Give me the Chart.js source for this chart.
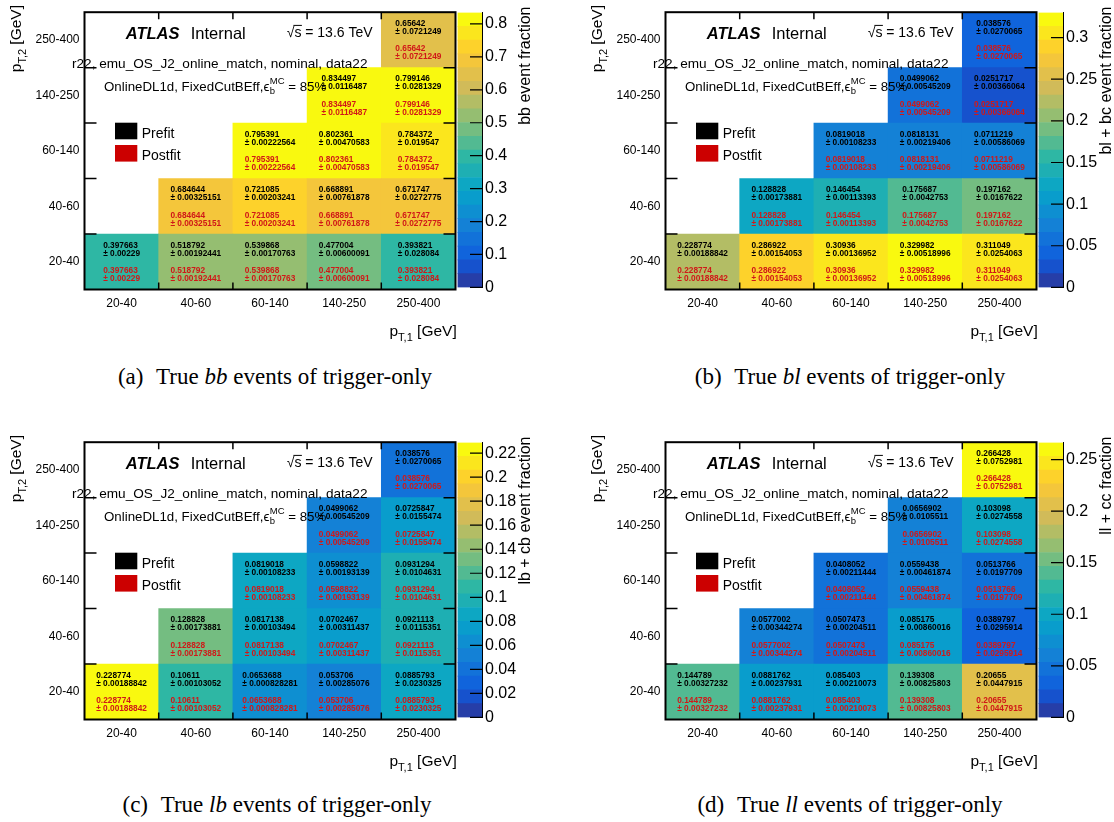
<!DOCTYPE html>
<html>
<head>
<meta charset="utf-8">
<script src="https://cdn.jsdelivr.net/npm/chart.js@4.4.1/dist/chart.umd.min.js"></script>
<style>
  html, body { margin: 0; padding: 0; background: #fff; }
  body { width: 1114px; height: 822px; position: relative; overflow: hidden; }
  canvas { position: absolute; }
  .cap { position: absolute; width: 600px; text-align: center; white-space: nowrap;
         font-family: "Liberation Serif", "Times New Roman", serif; font-size: 23px; line-height: 26px; color: #000; }
  .cap .tag { margin-right: 0.55em; }
</style>
</head>
<body>
<script>
// pT bins used for both jets (x: leading jet, y: subleading jet)
const ptBins = ['20-40', '40-60', '60-140', '140-250', '250-400'];

// Flavour fractions per (pT,2 row, pT,1 column); rows run from the lowest pT,2 bin upwards.
// Prefit and postfit values coincide, so both labels are drawn from the same arrays.
const bbFrac = [
  [0.397663, 0.518792, 0.539868, 0.477004, 0.393821],
  [null, 0.684644, 0.721085, 0.668891, 0.671747],
  [null, null, 0.795391, 0.802361, 0.784372],
  [null, null, null, 0.834497, 0.799146],
  [null, null, null, null, 0.65642]
];
const bbErr = [
  [0.00229, 0.00192441, 0.00170763, 0.00600091, 0.028084],
  [null, 0.00325151, 0.00203241, 0.00761878, 0.0272775],
  [null, null, 0.00222564, 0.00470583, 0.019547],
  [null, null, null, 0.0116487, 0.0281329],
  [null, null, null, null, 0.0721249]
];

const blFrac = [
  [0.228774, 0.286922, 0.30936, 0.329982, 0.311049],
  [null, 0.128828, 0.146454, 0.175687, 0.197162],
  [null, null, 0.0819018, 0.0818131, 0.0711219],
  [null, null, null, 0.0499062, 0.0251717],
  [null, null, null, null, 0.038576]
];
const blErr = [
  [0.00188842, 0.00154053, 0.00136952, 0.00518996, 0.0254063],
  [null, 0.00173881, 0.00113393, 0.0042753, 0.0167622],
  [null, null, 0.00108233, 0.00219406, 0.00586069],
  [null, null, null, 0.00545209, 0.00366064],
  [null, null, null, null, 0.0270065]
];

const lbFrac = [
  [0.228774, 0.10611, 0.0653688, 0.053706, 0.0885793],
  [null, 0.128828, 0.0817138, 0.0702467, 0.0921113],
  [null, null, 0.0819018, 0.0598822, 0.0931294],
  [null, null, null, 0.0499062, 0.0725847],
  [null, null, null, null, 0.038576]
];
const lbErr = [
  [0.00188842, 0.00103052, 0.000828281, 0.00285076, 0.0230325],
  [null, 0.00173881, 0.00103494, 0.00311437, 0.0115351],
  [null, null, 0.00108233, 0.00193139, 0.0104631],
  [null, null, null, 0.00545209, 0.0155474],
  [null, null, null, null, 0.0270065]
];

const llFrac = [
  [0.144789, 0.0881762, 0.085403, 0.139308, 0.20655],
  [null, 0.0577002, 0.0507473, 0.085175, 0.0389797],
  [null, null, 0.0408052, 0.0559438, 0.0513766],
  [null, null, null, 0.0656902, 0.103098],
  [null, null, null, null, 0.266428]
];
const llErr = [
  [0.00327232, 0.00237931, 0.00210073, 0.00825803, 0.0447915],
  [null, 0.00344274, 0.00204511, 0.00860016, 0.0295914],
  [null, null, 0.00211444, 0.00461874, 0.0197709],
  [null, null, null, 0.0105511, 0.0274558],
  [null, null, null, null, 0.0752981]
];

// colour-bar tick values
const bbTicks = [0, 0.1, 0.2, 0.3, 0.4, 0.5, 0.6, 0.7, 0.8];
const blTicks = [0, 0.05, 0.1, 0.15, 0.2, 0.25, 0.3];
const lbTicks = [0, 0.02, 0.04, 0.06, 0.08, 0.1, 0.12, 0.14, 0.16, 0.18, 0.2, 0.22];
const llTicks = [0, 0.05, 0.1, 0.15, 0.2, 0.25];

// ---------------------------------------------------------------------------
const SANS = '"Liberation Sans", Arial, Helvetica, sans-serif';
Chart.defaults.font.family = SANS;
Chart.defaults.color = '#000';
const RED = '#d01818';

// "bird" palette: 255 gradient colours, 20 contour levels
const birdStops = [0, 0.125, 0.25, 0.375, 0.5, 0.625, 0.75, 0.875, 1];
const birdR = [0.2082, 0.0592, 0.0780, 0.0232, 0.1802, 0.5301, 0.8186, 0.9956, 0.9764];
const birdG = [0.1664, 0.3599, 0.5041, 0.6419, 0.7178, 0.7492, 0.7328, 0.7862, 0.9832];
const birdB = [0.5293, 0.8684, 0.8385, 0.7914, 0.6425, 0.4662, 0.3499, 0.1968, 0.0539];
const NCOL = 255, NDIV = 20;

function paletteColor(k) {
  const bounds = birdStops.map(s => Math.floor(NCOL * s));
  let s = 0;
  while (s < bounds.length - 2 && k >= bounds[s + 1]) s++;
  const t = (k - bounds[s]) / (bounds[s + 1] - bounds[s]);
  const c = a => Math.round(255 * (a[s] + t * (a[s + 1] - a[s])));
  return `rgb(${c(birdR)},${c(birdG)},${c(birdB)})`;
}
function levelColor(level) {
  const k = Math.min(NCOL - 1, Math.floor((level + 0.99) * NCOL / NDIV));
  return paletteColor(k);
}
function cellColor(v, zmax) {
  return levelColor(Math.floor(0.01 + v * NDIV / zmax));
}

// draws a run of text pieces [{t, font, dy}] starting (or ending) at x
function drawRich(ctx, parts, x, y, align) {
  let total = 0;
  parts.forEach(p => { ctx.font = p.font; p.w = ctx.measureText(p.t).width; total += p.w; });
  let cx = align === 'right' ? x - total : x;
  ctx.textAlign = 'left';
  ctx.textBaseline = 'alphabetic';
  parts.forEach(p => { ctx.font = p.font; ctx.fillText(p.t, cx, y + (p.dy || 0)); cx += p.w; });
}
function ptTitle(sub) {
  return [
    { t: 'p', font: `15.5px ${SANS}` },
    { t: 'T,' + sub, font: `11px ${SANS}`, dy: 4.5 },
    { t: ' [GeV]', font: `15.5px ${SANS}` }
  ];
}

// cell labels, annotations, legend, frame and inward ticks
const heatmapDecor = {
  id: 'heatmapDecor',
  afterDatasetsDraw(chart, args, opts) {
    const ctx = chart.ctx;
    const area = chart.chartArea;
    const xs = chart.scales.x, ys = chart.scales.y;
    ctx.save();

    // cell texts
    ctx.font = `bold 8.3px ${SANS}`;
    ctx.textAlign = 'left';
    ctx.textBaseline = 'middle';
    opts.frac.forEach((row, r) => {
      const meta = chart.getDatasetMeta(r);
      row.forEach((v, c) => {
        if (v == null) return;
        const el = meta.data[c];
        const cy = (el.y + el.base) / 2;
        const l1 = String(v), l2 = '\u00b1 ' + String(opts.err[r][c]);
        const w = Math.max(ctx.measureText(l1).width, ctx.measureText(l2).width);
        const x0 = el.x - w / 2;
        ctx.fillStyle = '#000';
        ctx.fillText(l1, x0, cy - 16.3);
        ctx.fillText(l2, x0, cy - 8.3);
        ctx.fillStyle = RED;
        ctx.fillText(l1, x0, cy + 9);
        ctx.fillText(l2, x0, cy + 17);
      });
    });

    // ATLAS label and run information
    ctx.fillStyle = '#000';
    drawRich(ctx, [{ t: 'ATLAS', font: `italic bold 16.5px ${SANS}` }], 125.7, 39);
    drawRich(ctx, [{ t: 'Internal', font: `16.5px ${SANS}` }], 190.7, 39);
    ctx.font = `14px ${SANS}`;
    const wRoot = ctx.measureText('\u221a').width, wS = ctx.measureText('s').width;
    drawRich(ctx, [{ t: '\u221as = 13.6 TeV', font: `14px ${SANS}` }], 286.7, 36.7);
    ctx.lineWidth = 1;
    ctx.strokeStyle = '#000';
    ctx.beginPath();
    ctx.moveTo(286.7 + wRoot - 1, 36.7 - 11.3);
    ctx.lineTo(286.7 + wRoot + wS + 0.5, 36.7 - 11.3);
    ctx.stroke();
    drawRich(ctx, [{ t: 'r22, emu_OS_J2_online_match, nominal, data22', font: `13.6px ${SANS}` }], 72, 68.3);
    // epsilon with sub/superscript
    const f = `13.3px ${SANS}`, fs = `9.5px ${SANS}`;
    ctx.font = f;
    let xx = 104;
    drawRich(ctx, [{ t: 'OnlineDL1d, FixedCutBEff,\u03f5', font: f }], xx, 90.7);
    xx += ctx.measureText('OnlineDL1d, FixedCutBEff,\u03f5').width + 0.5;
    ctx.font = fs;
    const wMC = ctx.measureText('MC').width;
    drawRich(ctx, [{ t: 'MC', font: fs }], xx, 90.7 - 6.5);
    drawRich(ctx, [{ t: 'b', font: fs }], xx, 90.7 + 3.5);
    drawRich(ctx, [{ t: ' = 85%', font: f }], xx + wMC, 90.7);

    // legend
    ctx.fillStyle = '#000';
    ctx.fillRect(115, 122.7, 22.3, 16.6);
    ctx.fillStyle = '#cc0000';
    ctx.fillRect(115, 145, 22.3, 16.6);
    ctx.fillStyle = '#000';
    drawRich(ctx, [{ t: 'Prefit', font: `14px ${SANS}` }], 141.7, 137.5);
    drawRich(ctx, [{ t: 'Postfit', font: `14px ${SANS}` }], 141.7, 159.5);

    // frame and inward tick marks at bin edges
    const cw = xs.getPixelForValue(1) - xs.getPixelForValue(0);
    ctx.strokeStyle = '#000';
    ctx.lineWidth = 1.5;
    ctx.beginPath();
    for (let i = 1; i < ptBins.length; i++) {
      const x = xs.getPixelForValue(i) - cw / 2;
      ctx.moveTo(x, area.bottom); ctx.lineTo(x, area.bottom - 7);
      ctx.moveTo(x, area.top); ctx.lineTo(x, area.top + 7);
      const y = ys.getPixelForValue(i);
      ctx.moveTo(area.left, y); ctx.lineTo(area.left + 12, y);
      ctx.moveTo(area.right, y); ctx.lineTo(area.right - 12, y);
    }
    ctx.stroke();
    ctx.lineWidth = 2;
    ctx.strokeRect(area.left, area.top, area.right - area.left, area.bottom - area.top);

    // axis titles
    ctx.fillStyle = '#000';
    drawRich(ctx, ptTitle('1'), 456.7, 336, 'right');
    ctx.translate(21, 5);
    ctx.rotate(-Math.PI / 2);
    drawRich(ctx, ptTitle('2'), 0, 0, 'right');
    ctx.restore();
  }
};

const colorbarDecor = {
  id: 'colorbarDecor',
  afterDatasetsDraw(chart, args, opts) {
    const ctx = chart.ctx;
    const area = chart.chartArea;
    const ys = chart.scales.y;
    ctx.save();
    ctx.strokeStyle = '#000';
    ctx.lineWidth = 1.2;
    ctx.beginPath();
    ys.ticks.forEach(t => {
      const y = ys.getPixelForValue(t.value);
      ctx.moveTo(area.right, y);
      ctx.lineTo(area.right - 12, y);
    });
    ctx.stroke();
    ctx.fillStyle = '#000';
    ctx.translate(89.5, 6.5);
    ctx.rotate(-Math.PI / 2);
    drawRich(ctx, [{ t: opts.title, font: `16px ${SANS}` }], 0, 0, 'right');
    ctx.restore();
  }
};

function addCanvas(x, y, w, h) {
  const cv = document.createElement('canvas');
  cv.width = w; cv.height = h;
  cv.style.left = x + 'px'; cv.style.top = y + 'px';
  document.body.appendChild(cv);
  return cv;
}

function buildPanel(p) {
  const values = p.frac.flat().filter(v => v != null);
  const zmax = Math.max(...values);

  // heat map: one floating-bar dataset per pT,2 row
  const hm = addCanvas(p.x, p.y, 460, 345);
  const datasets = p.frac.map((row, r) => ({
    data: row.map(v => (v == null ? null : [r, r + 1])),
    backgroundColor: row.map(v => (v == null ? 'rgba(0,0,0,0)' : cellColor(v, zmax))),
    borderWidth: 0,
    grouped: false,
    barPercentage: 1,
    categoryPercentage: 1
  }));
  new Chart(hm, {
    type: 'bar',
    data: { labels: ptBins, datasets },
    options: {
      responsive: false, animation: false, devicePixelRatio: 1,
      layout: { padding: { left: 0, top: 6, right: 4.5, bottom: 0 } },
      plugins: {
        legend: { display: false }, tooltip: { enabled: false },
        heatmapDecor: { frac: p.frac, err: p.err }
      },
      scales: {
        x: {
          type: 'category', offset: true,
          grid: { display: false, drawTicks: false }, border: { display: false },
          ticks: { font: { size: 12 }, color: '#000', padding: 7, maxRotation: 0, autoSkip: false },
          afterFit(s) { s.height = 345 - 289.5; }
        },
        y: {
          type: 'linear', min: 0, max: ptBins.length,
          grid: { display: false, drawTicks: false }, border: { display: false },
          ticks: { font: { size: 12 }, color: '#000', padding: 5, autoSkip: false,
                   callback: v => ptBins[Math.floor(v)] },
          afterBuildTicks(s) { s.ticks = ptBins.map((_, i) => ({ value: i + 0.5 })); },
          afterFit(s) { s.width = 84.5; }
        }
      }
    },
    plugins: [heatmapDecor]
  });

  // colour bar: one band per contour level
  const cb = addCanvas(p.x + 440, p.y, 120, 300);
  const bands = [];
  for (let i = 0; i < NDIV; i++) {
    bands.push({
      data: [[zmax * i / NDIV, zmax * (i + 1) / NDIV]],
      backgroundColor: levelColor(i),
      borderWidth: 0, grouped: false, barPercentage: 1, categoryPercentage: 1
    });
  }
  new Chart(cb, {
    type: 'bar',
    data: { labels: [p.zTitle], datasets: bands },
    options: {
      responsive: false, animation: false, devicePixelRatio: 1,
      layout: { padding: { left: 17.5, top: 6, right: 0, bottom: 10.5 } },
      plugins: {
        legend: { display: false }, tooltip: { enabled: false },
        colorbarDecor: { title: p.zTitle }
      },
      scales: {
        x: { display: false, offset: true },
        y: {
          position: 'right', min: 0, max: zmax,
          grid: { display: false, drawTicks: false },
          border: { display: true, color: '#000', width: 1 },
          ticks: { font: { size: 16 }, color: '#000', padding: 3, autoSkip: false,
                   callback: v => String(v) },
          afterBuildTicks(s) { s.ticks = p.zTicks.map(v => ({ value: v })); },
          afterFit(s) { s.width = 78; }
        }
      }
    },
    plugins: [colorbarDecor]
  });

  // sub-figure caption
  const cap = document.createElement('div');
  cap.className = 'cap';
  cap.style.left = (p.capX - 300) + 'px';
  cap.style.top = (p.capY - 13) + 'px';
  cap.innerHTML = `<span class="tag">${p.tag}</span>True <i>${p.flav}</i> events of trigger-only`;
  document.body.appendChild(cap);
}

buildPanel({ x: 0, y: 0, frac: bbFrac, err: bbErr, zTicks: bbTicks, zTitle: 'bb event fraction',
             tag: '(a)', flav: 'bb', capX: 275, capY: 377 });
buildPanel({ x: 581, y: 0, frac: blFrac, err: blErr, zTicks: blTicks, zTitle: 'bl + bc event fraction',
             tag: '(b)', flav: 'bl', capX: 850, capY: 377 });
buildPanel({ x: 0, y: 430, frac: lbFrac, err: lbErr, zTicks: lbTicks, zTitle: 'lb + cb event fraction',
             tag: '(c)', flav: 'lb', capX: 277, capY: 805 });
buildPanel({ x: 581, y: 430, frac: llFrac, err: llErr, zTicks: llTicks, zTitle: 'll + cc fraction',
             tag: '(d)', flav: 'll', capX: 850, capY: 805 });
</script>
</body>
</html>
